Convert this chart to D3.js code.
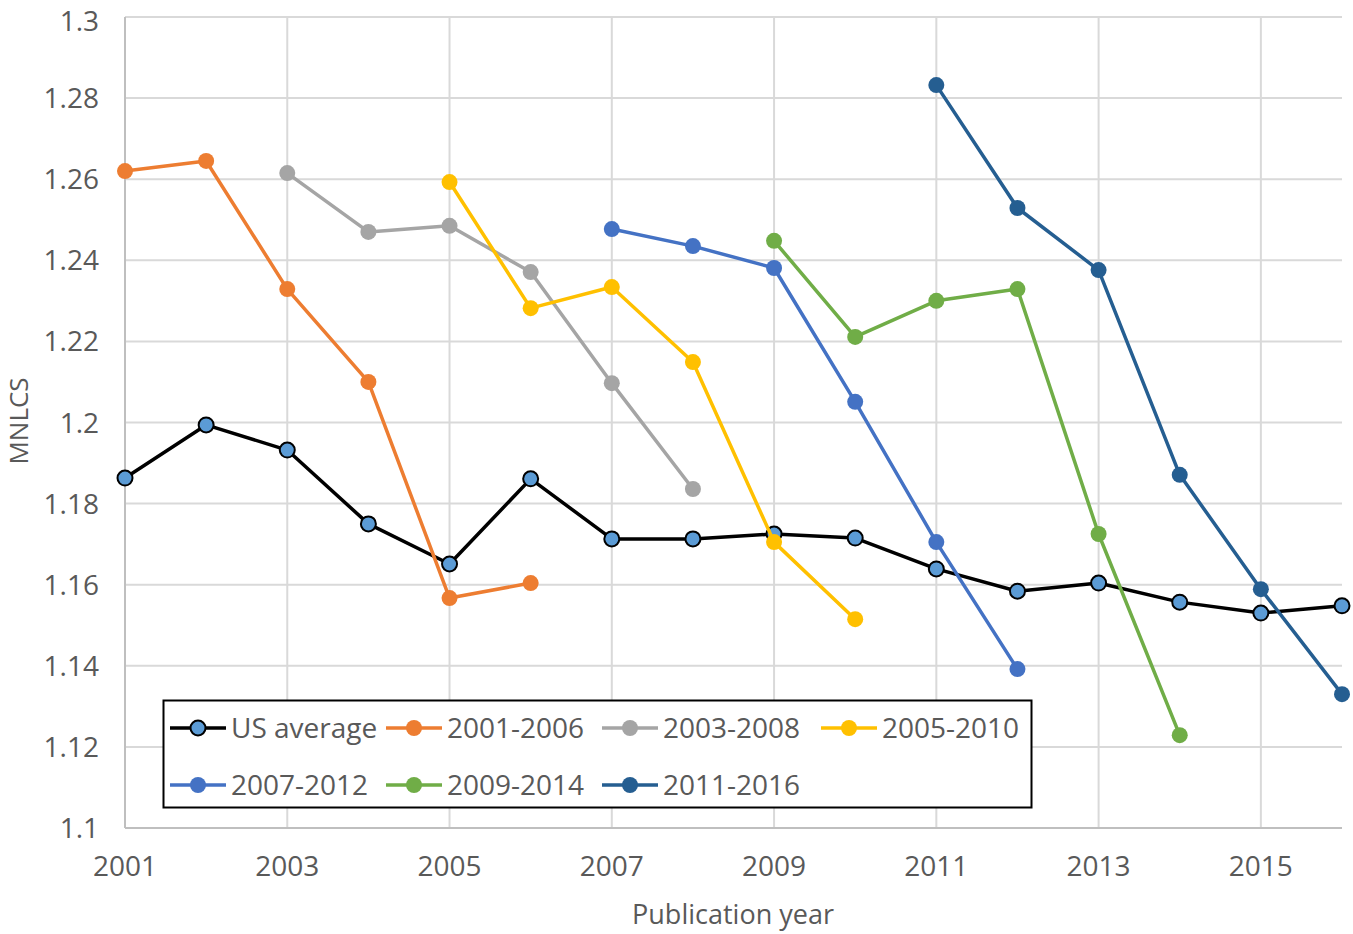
<!DOCTYPE html>
<html>
<head>
<meta charset="utf-8">
<script src="https://cdn.jsdelivr.net/npm/d3@7"></script>
<style>
  body { margin: 0; background: #fff; }
  text { font-family: "Open Sans", sans-serif; fill: #595959; }
</style>
</head>
<body>
<svg id="chart" width="1353" height="934"></svg>
<script>
const years = [2001, 2002, 2003, 2004, 2005, 2006, 2007, 2008, 2009, 2010, 2011, 2012, 2013, 2014, 2015, 2016];
const yTicks = [1.1, 1.12, 1.14, 1.16, 1.18, 1.2, 1.22, 1.24, 1.26, 1.28, 1.3];
const xTicks = [2001, 2003, 2005, 2007, 2009, 2011, 2013, 2015];

const usAverage = [1.1863, 1.1994, 1.1932, 1.1750, 1.1651, 1.1861, 1.1713, 1.1713, 1.1725, 1.1715, 1.1639, 1.1584, 1.1604, 1.1557, 1.1530, 1.1548];
const p2001 = [1.2620, 1.2645, 1.2329, 1.2100, 1.1567, 1.1604];
const p2003 = [1.2615, 1.2470, 1.2485, 1.2371, 1.2097, 1.1836];
const p2005 = [1.2593, 1.2282, 1.2334, 1.2149, 1.1705, 1.1515];
const p2007 = [1.2477, 1.2435, 1.2381, 1.2051, 1.1705, 1.1392];
const p2009 = [1.2448, 1.2211, 1.2300, 1.2329, 1.1725, 1.1229];
const p2011 = [1.2832, 1.2529, 1.2376, 1.1871, 1.1589, 1.1330];

const series = [
  { name: "US average", start: 2001, values: usAverage, color: "#000000", fill: "#5B9BD5" },
  { name: "2001-2006", start: 2001, values: p2001, color: "#ED7D31" },
  { name: "2003-2008", start: 2003, values: p2003, color: "#A5A5A5" },
  { name: "2005-2010", start: 2005, values: p2005, color: "#FFC000" },
  { name: "2007-2012", start: 2007, values: p2007, color: "#4472C4" },
  { name: "2009-2014", start: 2009, values: p2009, color: "#70AD47" },
  { name: "2011-2016", start: 2011, values: p2011, color: "#255E91" }
];

const svg = d3.select("#chart");
const margin = { left: 125, right: 1342, top: 17, bottom: 828 };

const x = d3.scaleLinear().domain([2001, 2016]).range([margin.left, margin.right]);
const y = d3.scaleLinear().domain([1.1, 1.3]).range([margin.bottom, margin.top]);

// gridlines
svg.append("g").selectAll("line").data(yTicks.slice(1)).join("line")
  .attr("x1", margin.left).attr("x2", margin.right)
  .attr("y1", d => y(d)).attr("y2", d => y(d))
  .attr("stroke", "#D9D9D9").attr("stroke-width", 2);
svg.append("g").selectAll("line").data(xTicks.slice(1)).join("line")
  .attr("x1", d => x(d)).attr("x2", d => x(d))
  .attr("y1", margin.top).attr("y2", margin.bottom)
  .attr("stroke", "#D9D9D9").attr("stroke-width", 2);

// axes lines
svg.append("line").attr("x1", margin.left).attr("x2", margin.left)
  .attr("y1", margin.top).attr("y2", margin.bottom)
  .attr("stroke", "#BFBFBF").attr("stroke-width", 2);
svg.append("line").attr("x1", margin.left).attr("x2", margin.right)
  .attr("y1", margin.bottom).attr("y2", margin.bottom)
  .attr("stroke", "#BFBFBF").attr("stroke-width", 2);

// tick labels (top one nudged so it stays inside the page)
svg.append("g").selectAll("text").data(yTicks).join("text")
  .attr("x", 99).attr("y", d => Math.max(y(d) + 10, 31))
  .attr("text-anchor", "end").attr("font-size", 28)
  .text(d => d3.format("")(+d.toFixed(2)));
svg.append("g").selectAll("text").data(xTicks).join("text")
  .attr("x", d => x(d)).attr("y", 876)
  .attr("text-anchor", "middle").attr("font-size", 28)
  .text(d => d);

// axis titles
svg.append("text").attr("x", 733).attr("y", 924)
  .attr("text-anchor", "middle").attr("font-size", 27).text("Publication year");
svg.append("text").attr("transform", "translate(28,421) rotate(-90)")
  .attr("text-anchor", "middle").attr("font-size", 26).text("MNLCS");

// lines and markers
const line = d3.line().x(d => x(d.year)).y(d => y(d.value));
series.forEach(s => {
  const pts = s.values.map((v, i) => ({ year: s.start + i, value: v }));
  const g = svg.append("g");
  g.append("path").datum(pts).attr("d", line)
    .attr("fill", "none").attr("stroke", s.color).attr("stroke-width", 3.5)
    .attr("stroke-linejoin", "round");
  g.selectAll("circle").data(pts).join("circle")
    .attr("cx", d => x(d.year)).attr("cy", d => y(d.value))
    .attr("r", s.fill ? 7.5 : 8)
    .attr("fill", s.fill || s.color)
    .attr("stroke", s.fill ? "#000" : "none").attr("stroke-width", 2);
});

// legend
const legend = svg.append("g");
legend.append("rect").attr("x", 163.5).attr("y", 700.5).attr("width", 868).attr("height", 107)
  .attr("fill", "#fff").attr("stroke", "#000").attr("stroke-width", 2);
const colX = [170, 386, 602, 821];
const rowY = [728, 785];
series.forEach((s, i) => {
  const lx = colX[i % 4], ly = rowY[Math.floor(i / 4)];
  const item = legend.append("g");
  item.append("line").attr("x1", lx).attr("x2", lx + 56).attr("y1", ly).attr("y2", ly)
    .attr("stroke", s.color).attr("stroke-width", 3.5);
  item.append("circle").attr("cx", lx + 28).attr("cy", ly).attr("r", s.fill ? 7.5 : 8)
    .attr("fill", s.fill || s.color)
    .attr("stroke", s.fill ? "#000" : "none").attr("stroke-width", 2);
  item.append("text").attr("x", lx + 61).attr("y", ly + 10)
    .attr("font-size", 28).text(s.name);
});
</script>
</body>
</html>
